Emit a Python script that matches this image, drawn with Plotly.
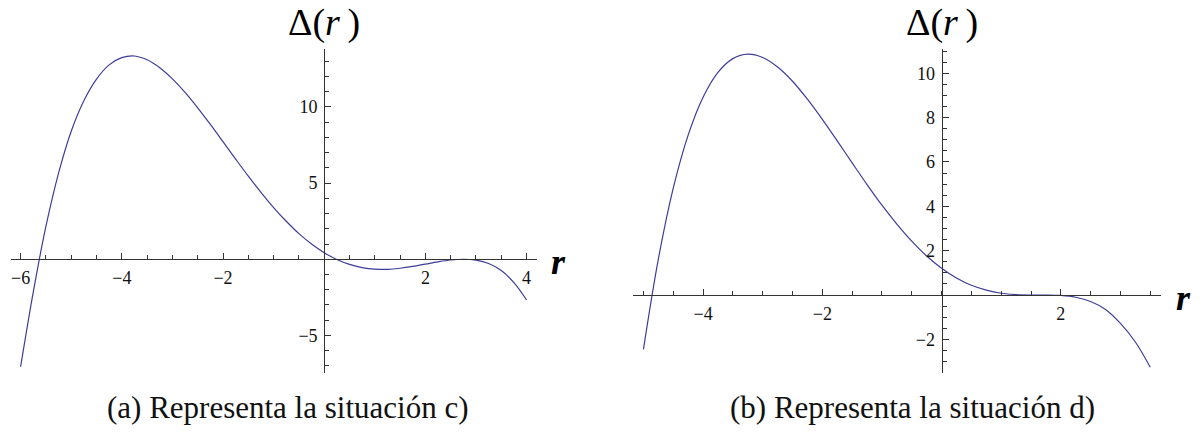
import plotly.graph_objects as go

# ---- data: Δ(r) sampled for the two situations ----
r_c = [-6.0, -5.75, -5.5, -5.25, -5.0, -4.75, -4.5, -4.25, -4.0, -3.75, -3.5,
       -3.25, -3.0, -2.75, -2.5, -2.25, -2.0, -1.75, -1.5, -1.25, -1.0, -0.75,
       -0.5, -0.25, 0.0, 0.25, 0.5, 0.75, 1.0, 1.25, 1.5, 1.75, 2.0, 2.25, 2.5,
       2.75, 3.0, 3.25, 3.5, 3.75, 4.0]
delta_c = [-7.05, -2.15, 2.15, 5.65, 8.4, 10.4, 11.82, 12.75, 13.22, 13.33, 13.08,
           12.56, 11.83, 10.94, 9.93, 8.84, 7.71, 6.57, 5.45, 4.39, 3.39, 2.49,
           1.68, 1.0, 0.43, -0.02, -0.34, -0.55, -0.65, -0.66, -0.59, -0.47,
           -0.32, -0.17, -0.05, 0.0, -0.06, -0.28, -0.74, -1.53, -2.67]

r_d = [-5.0, -4.75, -4.5, -4.25, -4.0, -3.75, -3.5, -3.25, -3.0, -2.75, -2.5,
       -2.25, -2.0, -1.75, -1.5, -1.25, -1.0, -0.75, -0.5, -0.25, 0.0, 0.25,
       0.5, 0.75, 1.0, 1.25, 1.5, 1.75, 2.0, 2.25, 2.5, 2.75, 3.0, 3.25, 3.5]
delta_d = [-2.45, 1.62, 4.82, 7.21, 8.92, 10.04, 10.66, 10.86, 10.71, 10.28, 9.64,
           8.83, 7.92, 6.95, 5.96, 4.98, 4.05, 3.2, 2.43, 1.76, 1.21, 0.77,
           0.44, 0.22, 0.08, 0.02, 0.0, 0.0, -0.02, -0.1, -0.29, -0.65, -1.28,
           -2.12, -3.26]

# tick labels
xt_c = [-6, -4, -2, 2, 4]
yt_c = [-5, 5, 10]
xt_d = [-4, -2, 2]
yt_d = [-2, 2, 4, 6, 8, 10]

captions = ["(a) Representa la situación c)", "(b) Representa la situación d)"]

W, H = 1201, 432
SERIF = "Liberation Serif, Times New Roman, Times, serif"
LINE = "#3d3d99"
AX = "#333333"

# panel geometry (paper fractions) and data ranges
xdom_c = [11 / W, 536.7 / W]
xdom_d = [632.7 / W, 1161 / W]
ydom = [1 - 373.3 / H, 1 - 49.3 / H]
xr_c, yr_c = [-6.19, 4.2], [-7.48, 13.77]
xr_d, yr_d = [-5.18, 3.68], [-3.53, 11.08]


def origin_pos(dom, rng):
    """Paper position of the value 0 along an axis."""
    return dom[0] + (0 - rng[0]) / (rng[1] - rng[0]) * (dom[1] - dom[0])


def minus(v):
    return str(v).replace("-", "\u2212")


fig = go.Figure()
fig.add_trace(go.Scatter(x=r_c, y=delta_c, mode="lines", xaxis="x", yaxis="y",
                         line=dict(color=LINE, width=1.2, shape="spline", smoothing=1.0),
                         showlegend=False, hoverinfo="skip"))
fig.add_trace(go.Scatter(x=r_d, y=delta_d, mode="lines", xaxis="x2", yaxis="y2",
                         line=dict(color=LINE, width=1.2, shape="spline", smoothing=1.0),
                         showlegend=False, hoverinfo="skip"))


def xaxis(dom, rng, yd, yr, tv):
    return dict(domain=dom, range=rng, anchor="free", position=origin_pos(yd, yr),
                showgrid=False, zeroline=False,
                showline=True, linecolor=AX, linewidth=1,
                tickmode="array", tickvals=tv, ticktext=[minus(v) for v in tv],
                ticks="inside", ticklen=6, tickwidth=1, tickcolor=AX,
                ticklabelstandoff=2,
                tickfont=dict(family=SERIF, size=18, color="#111"),
                minor=dict(tickmode="linear", tick0=0, dtick=0.5, ticks="inside",
                           ticklen=4, tickwidth=1, tickcolor=AX, showgrid=False),
                fixedrange=True)


def yaxis(dom, rng, xd, xr, tv, mdt):
    return dict(domain=dom, range=rng, anchor="free", position=origin_pos(xd, xr),
                showgrid=False, zeroline=False,
                showline=True, linecolor=AX, linewidth=1,
                tickmode="array", tickvals=tv, ticktext=[minus(v) for v in tv],
                ticks="inside", ticklen=6, tickwidth=1, tickcolor=AX,
                ticklabelstandoff=3,
                tickfont=dict(family=SERIF, size=18, color="#111"),
                minor=dict(tickmode="linear", tick0=0, dtick=mdt, ticks="inside",
                           ticklen=4, tickwidth=1, tickcolor=AX, showgrid=False),
                fixedrange=True)


xa1 = xaxis(xdom_c, xr_c, ydom, yr_c, xt_c)
xa2 = xaxis(xdom_d, xr_d, ydom, yr_d, xt_d)
ya1 = yaxis(ydom, yr_c, xdom_c, xr_c, yt_c, 1)
ya2 = yaxis(ydom, yr_d, xdom_d, xr_d, yt_d, 0.5)

annotations = []
for xd, xr, yd, yr in [(xdom_c, xr_c, ydom, yr_c), (xdom_d, xr_d, ydom, yr_d)]:
    x0 = origin_pos(xd, xr)
    y0 = origin_pos(yd, yr)
    # Δ(r) label above the vertical axis
    annotations.append(dict(x=x0, y=1 - 22 / H, xref="paper", yref="paper",
                            text="\u0394(<i>r</i>\u2009)", showarrow=False,
                            xanchor="center", yanchor="middle",
                            font=dict(family=SERIF, size=38, color="black")))
    # r label at the end of the horizontal axis
    annotations.append(dict(x=xd[1] + 22 / W, y=y0 - 3 / H, xref="paper", yref="paper",
                            text="<b><i>r</i></b>", showarrow=False,
                            xanchor="center", yanchor="middle",
                            font=dict(family=SERIF, size=36, color="black")))

for cx, cap in [(288, captions[0]), (912, captions[1])]:
    annotations.append(dict(x=cx / W, y=1 - 407 / H, xref="paper", yref="paper",
                            text=cap, showarrow=False, xanchor="center", yanchor="middle",
                            font=dict(family=SERIF, size=31, color="#111")))

fig.update_layout(
    width=W, height=H,
    margin=dict(l=0, r=0, t=0, b=0),
    paper_bgcolor="white", plot_bgcolor="white",
    xaxis=xa1, yaxis=ya1, xaxis2=xa2, yaxis2=ya2,
    annotations=annotations,
    showlegend=False,
)

fig.write_html("out.html", config={"displayModeBar": False})
